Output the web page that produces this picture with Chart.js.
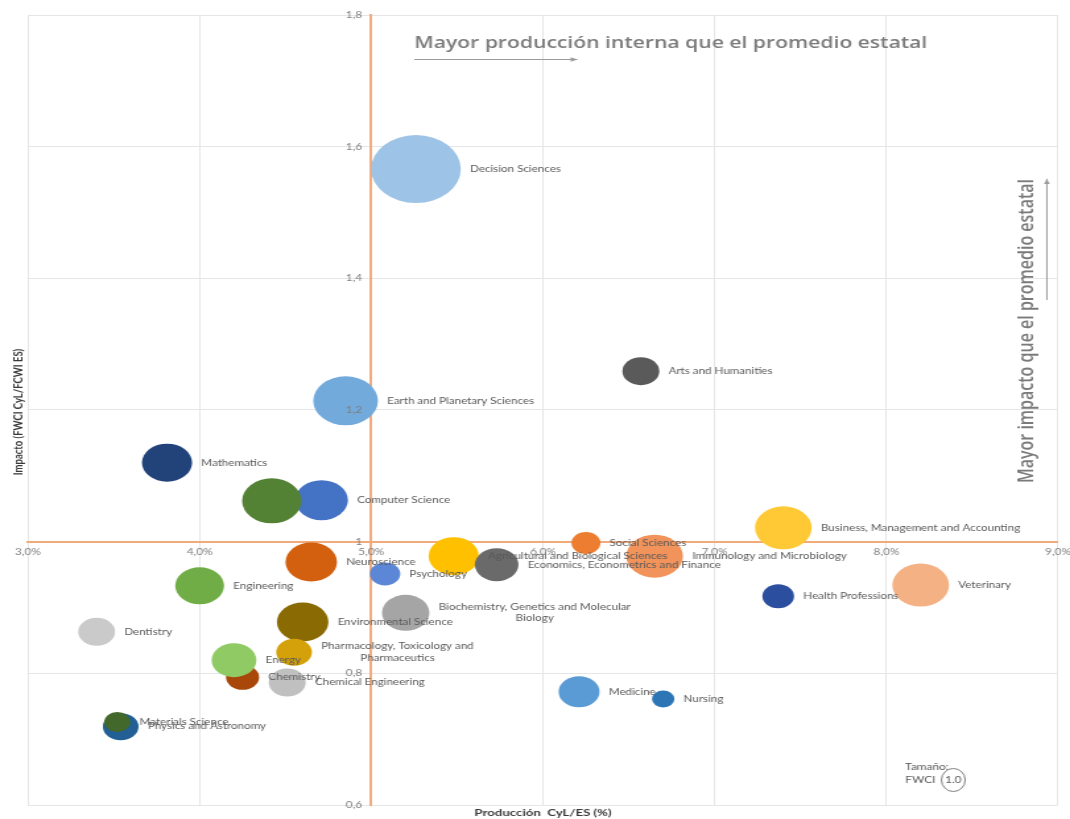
<!DOCTYPE html>
<html lang="es">
<head>
  <meta charset="UTF-8">
  <title>Producción e impacto por área</title>
  <script src="https://cdn.jsdelivr.net/npm/chart.js"></script>
  <style>
    html, body {
      margin: 0;
      padding: 0;
      background: #fff;
      overflow: hidden;
    }
    /* el gráfico original está estirado en horizontal */
    .chart-wrap {
      width: 811px;
      height: 819px;
      transform: scaleX(1.3194);
      transform-origin: 0 0;
    }
  </style>
</head>
<body>

  <div class="chart-wrap">
    <canvas id="bubbleChart" width="811" height="819"></canvas>
  </div>

  <script>
    const subjects = [
      "Agricultural and Biological Sciences", "Arts and Humanities",
      "Biochemistry, Genetics and Molecular Biology", "Business, Management and Accounting",
      "Chemical Engineering", "Chemistry", "Computer Science", "Decision Sciences",
      "Dentistry", "Earth and Planetary Sciences", "Economics, Econometrics and Finance",
      "Energy", "Engineering", "Environmental Science", "Health Professions",
      "Immunology and Microbiology", "Mathematics", "Medicine", "Multidisciplinary",
      "Neuroscience", "Nursing", "Pharmacology, Toxicology and Pharmaceutics",
      "Physics and Astronomy", "Materials Science", "Psychology", "Social Sciences", "Veterinary"
    ];

    // Producción CyL/ES (%)
    const produccion = [
      5.48, 6.57, 5.20, 7.40, 4.51, 4.25, 4.71, 5.26,
      3.40, 4.85, 5.73, 4.20, 4.00, 4.60, 7.37,
      6.65, 3.81, 6.21, 4.42, 4.65, 6.70, 4.55,
      3.54, 3.52, 5.08, 6.25, 8.20
    ];

    // Impacto (FWCI CyL / FWCI ES)
    const impacto = [
      0.978, 1.259, 0.892, 1.021, 0.786, 0.794, 1.063, 1.566,
      0.863, 1.214, 0.965, 0.820, 0.933, 0.878, 0.917,
      0.978, 1.120, 0.772, 1.062, 0.969, 0.761, 0.832,
      0.719, 0.726, 0.951, 0.998, 0.934
    ];

    // Tamaño de la burbuja (FWCI)
    const tamano = [
      2.51, 1.36, 2.25, 3.21, 1.36, 1.09, 2.78, 8.03,
      1.36, 4.17, 1.89, 2.00, 2.38, 2.64, 1.00,
      3.21, 2.51, 1.67, 3.52, 2.64, 0.50, 1.27,
      1.27, 0.69, 0.92, 0.84, 3.21
    ];

    const colores = [
      '#ffc000', '#5a5a5a', '#a5a5a5', '#ffc935', '#c0c0c0', '#a9470b', '#4472c4', '#9dc3e6',
      '#cacaca', '#72aadc', '#6a6a6a', '#8fca64', '#70ad47', '#8a6a03', '#2b4f9e',
      '#f1935a', '#22427a', '#5b9bd5', '#548235', '#d2600f', '#2e75b6', '#d4a10a',
      '#225f94', '#43682b', '#5b87d6', '#ed7d31', '#f4b183'
    ];

    const sinEtiqueta = ["Multidisciplinary"];

    const xTicks = { min: 3, max: 9, step: 1 };
    const yTicks = { min: 0.6, max: 1.8, step: 0.2 };

    const ejeNaranja = '#f2aa7a';
    const grisTexto = '#595959';

    function wrapLabel(text, maxChars) {
      const words = text.split(' ');
      const lines = [];
      let cur = '';
      words.forEach(w => {
        const next = cur ? cur + ' ' + w : w;
        if (next.length > maxChars && cur) {
          lines.push(cur);
          cur = w;
        } else {
          cur = next;
        }
      });
      lines.push(cur);
      return lines;
    }

    // etiquetas a la derecha de cada burbuja
    const bubbleLabels = {
      id: 'bubbleLabels',
      afterDatasetsDraw(chart) {
        const ctx = chart.ctx;
        const meta = chart.getDatasetMeta(0);
        ctx.save();
        ctx.font = '8.8px Lato';
        ctx.fillStyle = grisTexto;
        ctx.textBaseline = 'middle';
        ctx.textAlign = 'center';
        meta.data.forEach((pt, i) => {
          if (sinEtiqueta.includes(subjects[i])) return;
          const lines = wrapLabel(subjects[i], 36);
          const widest = Math.max(...lines.map(l => ctx.measureText(l).width));
          const left = pt.x + pt.options.radius + 7;
          const cx = left + widest / 2;
          const lh = 11.5;
          lines.forEach((l, k) => {
            ctx.fillText(l, cx, pt.y + (k - (lines.length - 1) / 2) * lh);
          });
        });
        ctx.restore();
      }
    };

    function arrow(ctx, x1, y1, x2, y2) {
      const ang = Math.atan2(y2 - y1, x2 - x1);
      ctx.beginPath();
      ctx.moveTo(x1, y1);
      ctx.lineTo(x2, y2);
      ctx.stroke();
      ctx.beginPath();
      ctx.moveTo(x2, y2);
      ctx.lineTo(x2 - 5 * Math.cos(ang) + 2.2 * Math.sin(ang), y2 - 5 * Math.sin(ang) - 2.2 * Math.cos(ang));
      ctx.lineTo(x2 - 5 * Math.cos(ang) - 2.2 * Math.sin(ang), y2 - 5 * Math.sin(ang) + 2.2 * Math.cos(ang));
      ctx.closePath();
      ctx.fill();
    }

    // títulos de ejes, textos de cuadrante y leyenda de tamaño
    const annotations = {
      id: 'annotations',
      afterDraw(chart) {
        const ctx = chart.ctx;
        const xs = chart.scales.x;
        const ys = chart.scales.y;
        const area = chart.chartArea;
        ctx.save();

        // Mayor producción
        ctx.fillStyle = '#7a7a7a';
        ctx.font = '600 16px "Open Sans"';
        ctx.textAlign = 'left';
        ctx.textBaseline = 'middle';
        ctx.fillText('Mayor producción interna que el promedio estatal', xs.getPixelForValue(5.25), 43);
        ctx.strokeStyle = '#9a9a9a';
        ctx.fillStyle = '#9a9a9a';
        ctx.lineWidth = 1;
        arrow(ctx, xs.getPixelForValue(5.25), 59.5, xs.getPixelForValue(6.2), 59.5);

        // Mayor impacto
        ctx.save();
        ctx.translate(xs.getPixelForValue(8.82), ys.getPixelForValue(1.32));
        ctx.rotate(-Math.PI / 2);
        ctx.fillStyle = '#7a7a7a';
        ctx.textAlign = 'center';
        ctx.fillText('Mayor impacto que el promedio estatal', 0, 0);
        ctx.restore();
        arrow(ctx, xs.getPixelForValue(8.935), ys.getPixelForValue(1.367), xs.getPixelForValue(8.935), ys.getPixelForValue(1.551));

        // títulos de ejes
        ctx.fillStyle = '#3a3a3a';
        ctx.font = 'bold 10px Lato';
        ctx.textAlign = 'center';
        ctx.fillText('Producción  CyL/ES (%)', (area.left + area.right) / 2, 813);
        ctx.save();
        ctx.translate(13.6, 412);
        ctx.rotate(-Math.PI / 2);
        ctx.font = 'bold 9.5px Lato';
        ctx.fillText('Impacto (FWCI CyL/FCWI ES)', 0, 0);
        ctx.restore();

        // leyenda de tamaño
        ctx.fillStyle = grisTexto;
        ctx.font = '9px Lato';
        ctx.textAlign = 'left';
        const lx = xs.getPixelForValue(8.11);
        ctx.fillText('Tamaño:', lx, 767);
        ctx.fillText('FWCI', lx, 780);
        const cx = xs.getPixelForValue(8.39);
        ctx.strokeStyle = '#7f7f7f';
        ctx.beginPath();
        ctx.ellipse(cx, 780, 9, 11.5, 0, 0, Math.PI * 2);
        ctx.stroke();
        ctx.textAlign = 'center';
        ctx.fillText('1.0', cx, 780);

        ctx.restore();
      }
    };

    // los ejes cruzan dentro del área: sin márgenes extra por sus etiquetas
    function sinMargen(scale) {
      scale.paddingLeft = 0;
      scale.paddingRight = 0;
      scale.paddingTop = 0;
      scale.paddingBottom = 0;
    }

    const puntos = subjects.map((s, i) => ({
      x: produccion[i],
      y: impacto[i],
      r: 12 * Math.sqrt(tamano[i])
    }));

    const ctx1 = document.getElementById('bubbleChart').getContext('2d');

    new Chart(ctx1, {
      type: 'bubble',
      data: {
        labels: subjects,
        datasets: [{
          label: 'Áreas',
          data: puntos,
          backgroundColor: colores,
          borderWidth: 0,
          hoverBorderWidth: 0
        }]
      },
      options: {
        responsive: false,
        animation: false,
        layout: {
          autoPadding: false,
          padding: { left: 21.2, right: 9.1, top: 15, bottom: 14 }
        },
        plugins: {
          legend: { display: false },
          tooltip: { enabled: false }
        },
        scales: {
          x: {
            type: 'linear',
            position: { y: 1 },
            min: xTicks.min,
            max: xTicks.max,
            afterFit: sinMargen,
            border: { color: ejeNaranja, width: 2 },
            grid: { color: '#e6e6e6', drawTicks: false },
            ticks: {
              z: 1,
              stepSize: xTicks.step,
              padding: 5,
              color: '#7f7f7f',
              font: { family: 'Lato', size: 9 },
              maxRotation: 0,
              callback: v => v.toFixed(1).replace('.', ',') + '%'
            }
          },
          y: {
            type: 'linear',
            position: { x: 5 },
            min: yTicks.min,
            max: yTicks.max,
            afterFit: sinMargen,
            border: { color: ejeNaranja, width: 2 },
            grid: { color: '#e6e6e6', drawTicks: false },
            ticks: {
              z: 1,
              stepSize: yTicks.step,
              color: '#7f7f7f',
              font: { family: 'Lato', size: 9 },
              // separación respecto al eje
              callback: v => String(Math.round(v * 10) / 10).replace('.', ',') + '   '
            }
          }
        }
      },
      plugins: [bubbleLabels, annotations]
    });
  </script>

</body>
</html>
